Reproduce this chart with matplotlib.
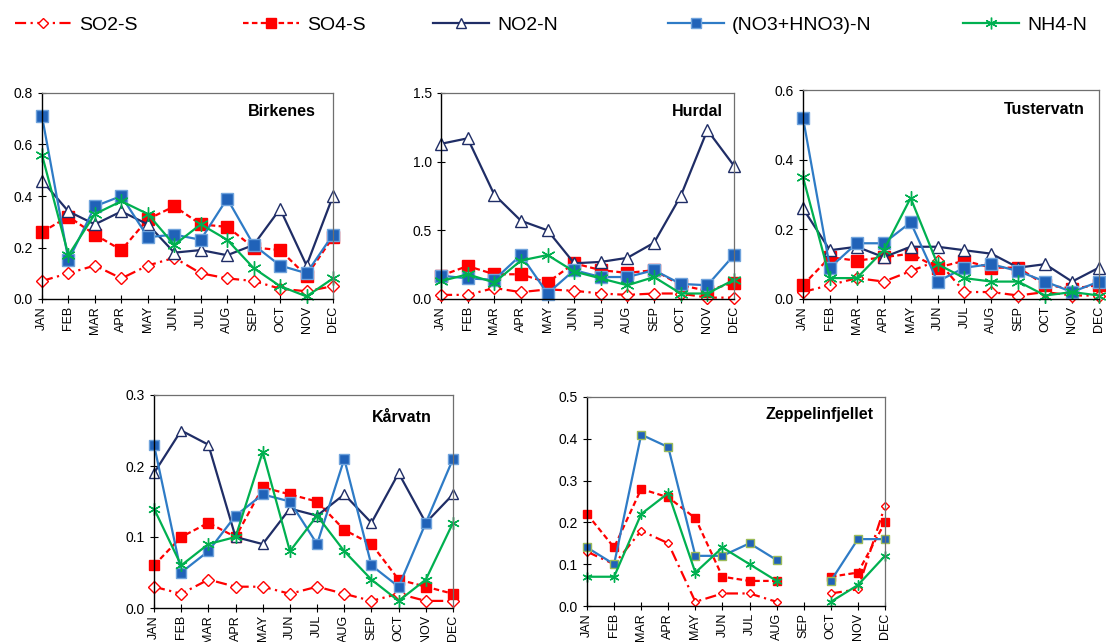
import numpy as np
import matplotlib
matplotlib.use("Agg")
import matplotlib.pyplot as plt
from matplotlib.lines import Line2D

plt.rcParams['font.family'] = ['Liberation Sans', 'DejaVu Sans']

months = ["JAN", "FEB", "MAR", "APR", "MAY", "JUN", "JUL", "AUG", "SEP", "OCT", "NOV", "DEC"]
series_names = ["SO2-S", "SO4-S", "NO2-N", "(NO3+HNO3)-N", "NH4-N"]
nan = np.nan

# Birkenes
birk_so2 = [0.07, 0.10, 0.13, 0.08, 0.13, 0.16, 0.10, 0.08, 0.07, 0.04, 0.03, 0.05]
birk_so4 = [0.26, 0.32, 0.25, 0.19, 0.31, 0.36, 0.29, 0.28, 0.20, 0.19, 0.09, 0.24]
birk_no2 = [0.46, 0.34, 0.29, 0.34, 0.29, 0.18, 0.19, 0.17, 0.21, 0.35, 0.13, 0.40]
birk_no3 = [0.71, 0.15, 0.36, 0.40, 0.24, 0.25, 0.23, 0.39, 0.21, 0.13, 0.10, 0.25]
birk_nh4 = [0.56, 0.17, 0.33, 0.38, 0.33, 0.21, 0.29, 0.23, 0.12, 0.05, 0.01, 0.08]

# Hurdal
hurd_so2 = [0.03, 0.03, 0.08, 0.05, 0.07, 0.06, 0.04, 0.03, 0.04, 0.04, 0.01, 0.01]
hurd_so4 = [0.17, 0.24, 0.18, 0.18, 0.12, 0.26, 0.21, 0.19, 0.21, 0.10, 0.06, 0.12]
hurd_no2 = [1.13, 1.17, 0.76, 0.57, 0.50, 0.26, 0.27, 0.30, 0.41, 0.75, 1.23, 0.97]
hurd_no3 = [0.17, 0.15, 0.14, 0.32, 0.04, 0.21, 0.16, 0.16, 0.21, 0.11, 0.10, 0.32]
hurd_nh4 = [0.13, 0.18, 0.12, 0.28, 0.32, 0.20, 0.15, 0.10, 0.16, 0.04, 0.04, 0.14]

# Tustervatn
tust_so2 = [0.02, 0.04, 0.06, 0.05, 0.08, 0.11, 0.02, 0.02, 0.01, 0.02, 0.01, 0.01]
tust_so4 = [0.04, 0.12, 0.11, 0.12, 0.13, 0.09, 0.11, 0.09, 0.09, 0.04, 0.03, 0.04]
tust_no2 = [0.26, 0.14, 0.15, 0.12, 0.15, 0.15, 0.14, 0.13, 0.09, 0.10, 0.05, 0.09]
tust_no3 = [0.52, 0.09, 0.16, 0.16, 0.22, 0.05, 0.09, 0.10, 0.08, 0.05, 0.02, 0.05]
tust_nh4 = [0.35, 0.06, 0.06, 0.14, 0.29, 0.10, 0.06, 0.05, 0.05, 0.01, 0.02, 0.01]

# Kårvatn
karv_so2 = [0.03, 0.02, 0.04, 0.03, 0.03, 0.02, 0.03, 0.02, 0.01, 0.02, 0.01, 0.01]
karv_so4 = [0.06, 0.10, 0.12, 0.10, 0.17, 0.16, 0.15, 0.11, 0.09, 0.04, 0.03, 0.02]
karv_no2 = [0.19, 0.25, 0.23, 0.10, 0.09, 0.14, 0.13, 0.16, 0.12, 0.19, 0.12, 0.16]
karv_no3 = [0.23, 0.05, 0.08, 0.13, 0.16, 0.15, 0.09, 0.21, 0.06, 0.03, 0.12, 0.21]
karv_nh4 = [0.14, 0.06, 0.09, 0.10, 0.22, 0.08, 0.13, 0.08, 0.04, 0.01, 0.04, 0.12]

# Zeppelinfjellet (no NO2, no September data)
zepp_so2 = [0.13, 0.10, 0.18, 0.15, 0.01, 0.03, 0.03, 0.01, nan, 0.03, 0.04, 0.24]
zepp_so4 = [0.22, 0.14, 0.28, 0.26, 0.21, 0.07, 0.06, 0.06, nan, 0.07, 0.08, 0.20]
zepp_no2 = [nan] * 12
zepp_no3 = [0.14, 0.10, 0.41, 0.38, 0.12, 0.12, 0.15, 0.11, nan, 0.06, 0.16, 0.16]
zepp_nh4 = [0.07, 0.07, 0.22, 0.27, 0.08, 0.14, 0.10, 0.06, nan, 0.01, 0.05, 0.12]

stations = ["Birkenes", "Hurdal", "Tustervatn", "Kårvatn", "Zeppelinfjellet"]
station_data = [
    [birk_so2, birk_so4, birk_no2, birk_no3, birk_nh4],
    [hurd_so2, hurd_so4, hurd_no2, hurd_no3, hurd_nh4],
    [tust_so2, tust_so4, tust_no2, tust_no3, tust_nh4],
    [karv_so2, karv_so4, karv_no2, karv_no3, karv_nh4],
    [zepp_so2, zepp_so4, zepp_no2, zepp_no3, zepp_nh4],
]
ymax = [0.8, 1.5, 0.6, 0.3, 0.5]
ystep = [0.2, 0.5, 0.2, 0.1, 0.1]

# axes rectangles in pixels: left, top, right, bottom
W, H = 1106, 642
boxes = [(42, 93, 333, 299), (441, 93, 734, 299), (803, 90, 1099, 299),
         (154, 395, 453, 608), (587, 397, 885, 606)]
title_off = [(-17, -19), (-11, -19), (-14, -20), (-21, -22), (-12, -18)]

red = "#FF0000"
navy = "#1F2D66"
blue = "#2E7BC6"
green = "#00B050"
star = (6, 2, 0)


def styles(ms, no3_edge):
    return [
        dict(color=red, lw=1.6, ls=(0, (5, 2, 1, 2)), marker="D", ms=ms * 0.75,
             mfc="white", mec=red, mew=1.0),
        dict(color=red, lw=1.6, ls=(0, (2.5, 1.5)), marker="s", ms=ms,
             mfc=red, mec=red, mew=1.0),
        dict(color=navy, lw=1.6, ls="-", marker="^", ms=ms * 1.05,
             mfc="white", mec=navy, mew=1.0),
        dict(color=blue, lw=1.6, ls="-", marker="s", ms=ms,
             mfc="#2062B8", mec=no3_edge, mew=1.0),
        dict(color=green, lw=1.6, ls="-", marker=star, ms=ms * 1.2,
             mfc=green, mec=green, mew=1.0),
    ]


fig = plt.figure(figsize=(W / 100, H / 100), dpi=100)
x = np.arange(12)
msizes = [8.5, 8.5, 8.5, 7.5, 6.0]

for k, name in enumerate(stations):
    l, t, r, b = boxes[k]
    ax = fig.add_axes([l / W, 1 - b / H, (r - l) / W, (b - t) / H])
    edge = "#9BBB59" if k == 4 else "#6FA3DC"
    for vals, st in zip(station_data[k], styles(msizes[k], edge)):
        ax.plot(x, vals, clip_on=False, **st)
    ax.set_xlim(0, 11)
    ax.set_ylim(0, ymax[k])
    ax.set_yticks(np.arange(0, ymax[k] + 1e-9, ystep[k]))
    ax.yaxis.set_major_formatter(matplotlib.ticker.FormatStrFormatter("%.1f"))
    ax.set_xticks(x)
    ax.set_xticklabels(months, rotation=90, fontsize=9)
    ax.tick_params(axis="y", labelsize=10, direction="inout", length=6, width=0.8)
    ax.tick_params(axis="x", direction="inout", length=6, width=0.8, pad=2)
    for s in ["left", "bottom"]:
        ax.spines[s].set_color("black")
        ax.spines[s].set_linewidth(1.0)
    for s in ["top", "right"]:
        ax.spines[s].set_color("#6F6F6F")
        ax.spines[s].set_linewidth(0.9)
    ax.annotate(name, xy=(1, 1), xycoords="axes fraction", xytext=title_off[k],
                textcoords="offset pixels", ha="right", va="center",
                fontsize=11.5, fontweight="bold")

# legend entries across the top
leg_x = [15, 243, 433, 668, 963]
for name, st, lx in zip(series_names, styles(7, "#6FA3DC"), leg_x):
    h = Line2D([], [], **st)
    fig.legend(handles=[h], labels=[name], loc="center left",
               bbox_to_anchor=(lx / W, 1 - 25 / H), frameon=False,
               fontsize=14, handlelength=2.9, handletextpad=0.4,
               borderpad=0, borderaxespad=0)

fig.savefig("out.png", dpi=100)
